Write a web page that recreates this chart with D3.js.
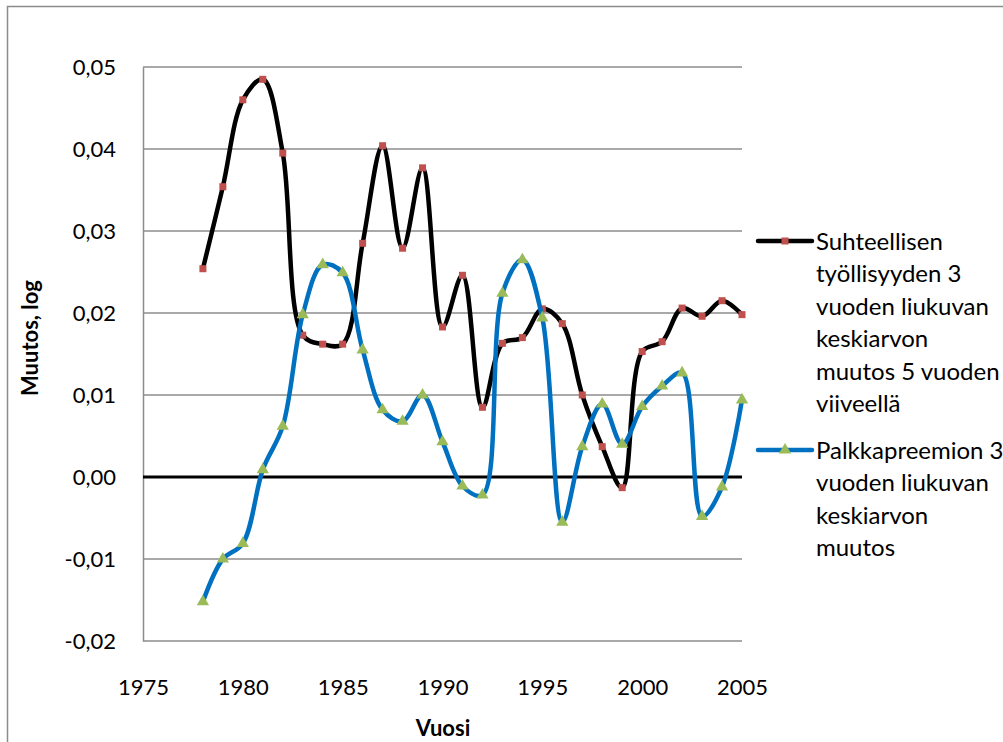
<!DOCTYPE html>
<html><head><meta charset="utf-8">
<script src="https://cdn.jsdelivr.net/npm/d3@7"></script>
<style>body{margin:0;background:#fff;}svg{display:block;font-family:Lato,"Open Sans",sans-serif;}</style>
</head><body>
<svg id="c" width="1003" height="742"></svg>
<script>
const years = d3.range(1978, 2006);
const employment = [0.0254,0.0354,0.0460,0.0485,0.0395,0.0173,0.0162,0.0162,0.0285,0.0404,0.0279,0.0377,0.0183,0.0246,0.0085,0.0163,0.0170,0.0205,0.0187,0.0100,0.0037,-0.0013,0.0153,0.0165,0.0206,0.0196,0.0215,0.0198];
const premium = [-0.0152,-0.0100,-0.0081,0.0009,0.0062,0.0198,0.0259,0.0249,0.0155,0.0082,0.0068,0.0100,0.0043,-0.0011,-0.0022,0.0224,0.0265,0.0194,-0.0055,0.0037,0.0089,0.0040,0.0086,0.0111,0.0127,-0.0048,-0.0012,0.0094];
const xTicks = [1975,1980,1985,1990,1995,2000,2005];
const yTicks = [-0.02,-0.01,0,0.01,0.02,0.03,0.04,0.05];
const legendEmployment = ["Suhteellisen","työllisyyden 3","vuoden liukuvan","keskiarvon","muutos 5 vuoden","viiveellä"];
const legendPremium = ["Palkkapreemion 3","vuoden liukuvan","keskiarvon","muutos"];

const svg = d3.select("#c");
svg.append("rect").attr("x",7.5).attr("y",6.5).attr("width",1100).attr("height",900)
  .attr("fill","none").attr("stroke","#8c8c8c").attr("stroke-width",1.5);

const x = d3.scaleLinear().domain([1975,2005]).range([143,742]);
const y = d3.scaleLinear().domain([-0.02,0.05]).range([641,67]);
const fmt = v => d3.format(".2f")(v).replace("−","-").replace(".",",");

// gridlines
svg.append("g").selectAll("line").data(yTicks.filter(v=>v!==0)).join("line")
  .attr("x1",x(1975)).attr("x2",x(2005)).attr("y1",d=>y(d)).attr("y2",d=>y(d))
  .attr("stroke","#8c8c8c").attr("stroke-width",1.5);
// y axis
const ya = svg.append("g").attr("transform",`translate(${x(1975)},0)`)
  .call(d3.axisLeft(y).tickValues(yTicks).tickFormat(fmt).tickSize(0).tickPadding(27));
ya.select(".domain").attr("stroke","#8c8c8c").attr("stroke-width",1.5);
ya.selectAll("text").attr("font-size",22).attr("fill","#000").attr("font-family","Lato");
// x ticks
const xa = svg.append("g").attr("transform",`translate(0,${y(-0.02)})`)
  .call(d3.axisBottom(x).tickValues(xTicks).tickFormat(d3.format("d")).tickSize(0).tickPadding(38));
xa.select(".domain").remove();
xa.selectAll("text").attr("font-size",22).attr("fill","#000").attr("font-family","Lato");
// zero line
svg.append("line").attr("x1",x(1975)).attr("x2",x(2005)).attr("y1",y(0)).attr("y2",y(0))
  .attr("stroke","#000").attr("stroke-width",3);

const line = d3.line().curve(d3.curveCatmullRom.alpha(0.5));
const ptsE = years.map((yr,i)=>[x(yr),y(employment[i])]);
const ptsP = years.map((yr,i)=>[x(yr),y(premium[i])]);
svg.append("path").attr("d",line(ptsE)).attr("fill","none").attr("stroke","#000").attr("stroke-width",4.5);
svg.append("g").selectAll("rect").data(ptsE).join("rect")
  .attr("x",d=>d[0]-3.5).attr("y",d=>d[1]-3.5).attr("width",7).attr("height",7).attr("fill","#C0504D");
svg.append("path").attr("d",line(ptsP)).attr("fill","none").attr("stroke","#0070C0").attr("stroke-width",4.5);
const tri = d3.symbol().type(d3.symbolTriangle).size(65);
svg.append("g").selectAll("path").data(ptsP).join("path")
  .attr("d",tri).attr("transform",d=>`translate(${d[0]},${d[1]})`).attr("fill","#9BBB59");

// axis titles
svg.append("text").attr("x",443).attr("y",736).attr("text-anchor","middle")
  .attr("font-size",22).attr("font-weight","bold").text("Vuosi");
svg.append("text").attr("transform","translate(38,338) rotate(-90)").attr("text-anchor","middle")
  .attr("font-size",22).attr("font-weight","bold").text("Muutos, log");

// legend
function legend(yc, color, marker, lines){
  const g = svg.append("g");
  g.append("line").attr("x1",758).attr("x2",812).attr("y1",yc).attr("y2",yc)
    .attr("stroke",color).attr("stroke-width",4.5).attr("stroke-linecap","round");
  if(marker==="sq") g.append("rect").attr("x",785-3.5).attr("y",yc-3.5).attr("width",7).attr("height",7).attr("fill","#C0504D");
  else g.append("path").attr("d",tri).attr("transform",`translate(785,${yc})`).attr("fill","#9BBB59");
  g.selectAll("text").data(lines).join("text").attr("x",816).attr("y",(d,i)=>yc+9+i*32.4)
    .attr("font-size",24).attr("fill","#000").text(d=>d);
}
legend(241,"#000","sq",legendEmployment);
legend(450,"#0070C0","tri",legendPremium);
</script>
</body></html>
